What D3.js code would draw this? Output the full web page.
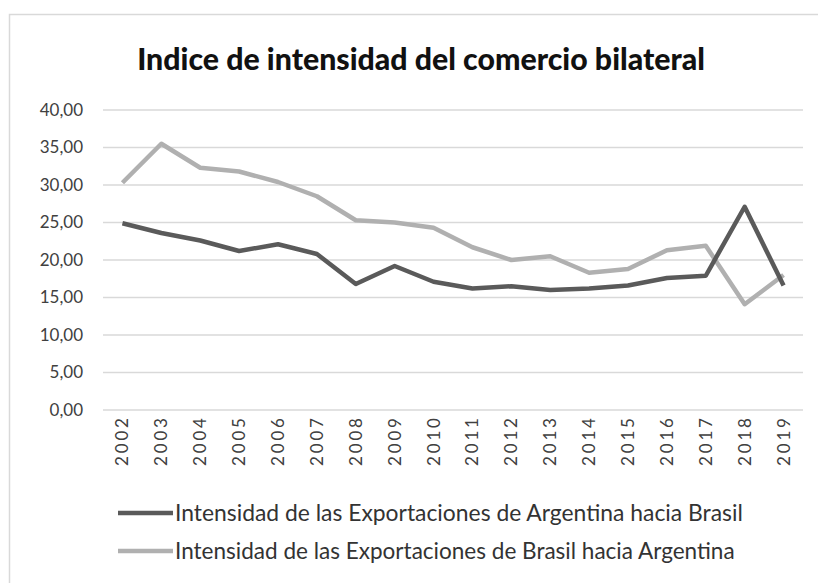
<!DOCTYPE html>
<html>
  <head>
    <script src="https://d3js.org/d3.v7.min.js"></script>
    <style>
      body { margin: 0; background: #fff; }
      text { font-family: Lato, "Open Sans", sans-serif; }
    </style>
  </head>
  <body>
    <div id="chart"></div>
    <script>
      const years = ["2002", "2003", "2004", "2005", "2006", "2007", "2008", "2009", "2010",
        "2011", "2012", "2013", "2014", "2015", "2016", "2017", "2018", "2019"];
      const argToBra = [24.9, 23.6, 22.6, 21.2, 22.1, 20.8, 16.8, 19.2, 17.1,
        16.2, 16.5, 16.0, 16.2, 16.6, 17.6, 17.9, 27.1, 16.6];
      const braToArg = [30.3, 35.5, 32.3, 31.8, 30.4, 28.5, 25.3, 25.0, 24.3,
        21.7, 20.0, 20.5, 18.3, 18.8, 21.3, 21.9, 14.1, 18.0];
      const yTicks = [0, 5, 10, 15, 20, 25, 30, 35, 40];
      const seriesNames = [
        "Intensidad de las Exportaciones de Argentina hacia Brasil",
        "Intensidad de las Exportaciones de Brasil hacia Argentina"
      ];
      const colors = ["#5a5a5a", "#b0b0b0"];

      const width = 818;
      const height = 583;

      const svg = d3.select("#chart").append("svg")
        .attr("width", width)
        .attr("height", height);

      // chart frame (cropped on the right and bottom)
      svg.append("rect")
        .attr("x", 9.5).attr("y", 14.5)
        .attr("width", 840).attr("height", 600)
        .attr("fill", "none")
        .attr("stroke", "#d9d9d9")
        .attr("stroke-width", 1.5);

      svg.append("text")
        .attr("x", 421).attr("y", 70)
        .attr("text-anchor", "middle")
        .attr("font-size", 25)
        .attr("font-weight", "900")
        .attr("fill", "#111")
        .text("Indice de intensidad del comercio bilateral")
        .each(function () {
          const w = this.getComputedTextLength();
          d3.select(this).attr("font-size", 25 * 568 / w);
        });

      const x = d3.scaleBand().domain(years).range([103, 803]);
      const y = d3.scaleLinear().domain([0, 40]).range([410, 110]);

      // gridlines
      svg.append("g")
        .selectAll("line")
        .data(yTicks)
        .join("line")
        .attr("x1", 103).attr("x2", 803)
        .attr("y1", d => y(d)).attr("y2", d => y(d))
        .attr("stroke", "#d9d9d9")
        .attr("stroke-width", 1.5);

      // y axis labels
      const yAxis = svg.append("g")
        .attr("transform", "translate(90,0)")
        .call(d3.axisLeft(y).tickValues(yTicks).tickSize(0).tickPadding(7)
          .tickFormat(d => d3.format(".2f")(d).replace(".", ",")));
      yAxis.select(".domain").remove();
      yAxis.selectAll("text")
        .attr("font-family", "Lato, 'Open Sans', sans-serif")
        .attr("font-size", 17)
        .attr("fill", "#404040");

      // x axis labels, rotated
      svg.append("g")
        .selectAll("text")
        .data(years)
        .join("text")
        .attr("transform", d => `translate(${x(d) + x.bandwidth() / 2},418) rotate(-90)`)
        .attr("text-anchor", "end")
        .attr("dy", "0.35em")
        .attr("font-size", 17)
        .attr("fill", "#404040")
        .attr("textLength", 48)
        .attr("lengthAdjust", "spacing")
        .text(d => d);

      const line = d3.line()
        .x((d, i) => x(years[i]) + x.bandwidth() / 2)
        .y(d => y(d));

      [braToArg, argToBra].forEach((vals, k) => {
        svg.append("path")
          .datum(vals)
          .attr("d", line)
          .attr("fill", "none")
          .attr("stroke", colors[1 - k])
          .attr("stroke-width", 4.5)
          .attr("stroke-linejoin", "round");
      });

      // legend
      const legend = svg.append("g")
        .selectAll("g")
        .data(seriesNames)
        .join("g")
        .attr("transform", (d, i) => `translate(118,${513 + i * 38})`);
      legend.append("line")
        .attr("x1", 0).attr("x2", 55)
        .attr("stroke", (d, i) => colors[i])
        .attr("stroke-width", 4.5);
      legend.append("text")
        .attr("x", 57)
        .attr("dy", "0.35em")
        .attr("font-size", 19)
        .attr("fill", "#333")
        .text(d => d)
        .each(function (d, i) {
          const target = i === 0 ? 568 : 560;
          const w = this.getComputedTextLength();
          d3.select(this).attr("font-size", 19 * target / w);
        });
    </script>
  </body>
</html>
